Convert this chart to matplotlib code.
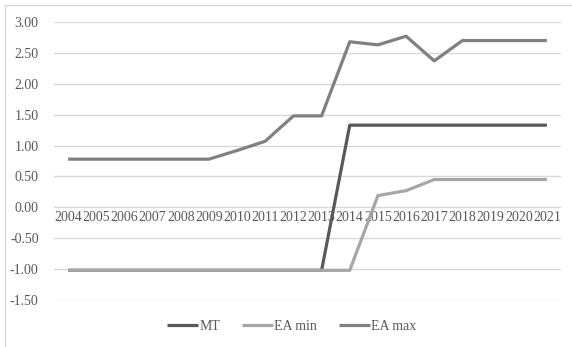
import numpy as np
import matplotlib.pyplot as plt
from matplotlib.patches import Rectangle

plt.rcParams['font.family'] = ['Liberation Serif', 'DejaVu Serif']
plt.rcParams['axes.unicode_minus'] = False

years = [str(y) for y in range(2004, 2022)]
mt = [-1.02] * 10 + [1.33] * 8
ea_min = [-1.02] * 11 + [0.19, 0.27, 0.45, 0.45, 0.45, 0.45, 0.45]
ea_max = [0.78, 0.78, 0.78, 0.78, 0.78, 0.78, 0.92, 1.07, 1.48, 1.48,
          2.68, 2.63, 2.77, 2.37, 2.70, 2.70, 2.70, 2.70]
y_ticks = [-1.5, -1.0, -0.5, 0.0, 0.5, 1.0, 1.5, 2.0, 2.5, 3.0]

W, H = 572, 347
fig = plt.figure(figsize=(W / 100, H / 100), dpi=100)
ax = fig.add_axes([54 / W, 1 - 300 / H, (561 - 54) / W, (300 - 22) / H])

x = np.arange(len(years))
ax.plot(x, mt, color='#595959', lw=2.3, label='MT', solid_capstyle='butt')
ax.plot(x, ea_min, color='#a6a6a6', lw=2.3, label='EA min', solid_capstyle='butt')
ax.plot(x, ea_max, color='#808080', lw=2.3, label='EA max', solid_capstyle='butt')

ax.set_xlim(-0.5, len(years) - 0.5)
ax.set_ylim(-1.5, 3.0)
ax.set_yticks(y_ticks)
ax.set_yticklabels([f'{v:.2f}' for v in y_ticks])
ax.set_xticks(x)
ax.set_xticklabels(years)
ax.yaxis.grid(True, color='#d9d9d9', lw=1)
ax.set_axisbelow(True)

for s in ['top', 'right', 'left']:
    ax.spines[s].set_visible(False)
ax.spines['bottom'].set_position(('data', 0))
ax.spines['bottom'].set_visible(False)
ax.tick_params(axis='both', length=0, labelsize=10, colors='#595959')
ax.tick_params(axis='x', pad=3)
ax.tick_params(axis='y', pad=11)

fig.legend(loc='center', bbox_to_anchor=(292 / W, 1 - 326 / H), ncol=3,
           frameon=False, fontsize=10, handlelength=2.2, handletextpad=0.1,
           columnspacing=1.6, labelcolor='#595959')

# chart area outline
fig.patches.append(Rectangle((5 / W, -0.2), 2, 1.2 - 5 / H, transform=fig.transFigure,
                             fill=False, edgecolor='#d9d9d9', lw=1))

fig.savefig('out.png', dpi=100)
